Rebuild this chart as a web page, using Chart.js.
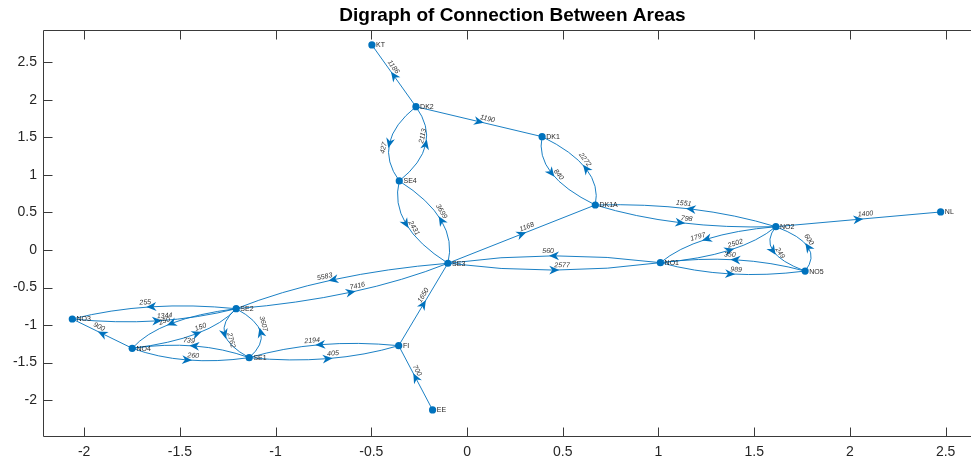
<!DOCTYPE html>
<html>
<head>
<meta charset="utf-8">
<script src="https://cdn.jsdelivr.net/npm/chart.js@4.4.1/dist/chart.umd.min.js"></script>
<style>
  html, body { margin: 0; padding: 0; overflow: hidden; background: #fff; }
  #wrap { width: 1000px; height: 465px; }
</style>
</head>
<body>
<div id="wrap"><canvas id="c" width="1000" height="465"></canvas></div>
<script>
// Areas (graph nodes) and their layout coordinates
const nodeNames = ['KT', 'DK2', 'DK1', 'SE4', 'DK1A', 'NO2', 'NL', 'SE3', 'NO1', 'NO5', 'NO3', 'SE2', 'NO4', 'SE1', 'FI', 'EE'];
const nodeX = [-0.497, -0.267, 0.392, -0.354, 0.670, 1.613, 2.474, -0.100, 1.010, 1.766, -2.062, -1.206, -1.749, -1.138, -0.357, -0.180];
const nodeY = [2.730, 1.908, 1.509, 0.919, 0.599, 0.310, 0.506, -0.177, -0.169, -0.281, -0.919, -0.782, -1.309, -1.434, -1.274, -2.130];

// Directed connections: source, target, capacity
const edgeSource = ['DK2', 'DK2', 'DK2', 'SE4', 'SE4', 'SE3', 'DK1', 'DK1A', 'SE3', 'DK1A', 'NO2', 'NO2', 'NO2', 'NO1', 'NO5', 'NO1', 'NO2', 'NO5', 'NO1', 'SE3', 'SE3', 'SE2', 'FI', 'EE', 'FI', 'SE1', 'SE2', 'SE1', 'SE2', 'NO3', 'SE2', 'NO4', 'NO4', 'SE1', 'NO4'];
const edgeTarget = ['KT', 'DK1', 'SE4', 'DK2', 'SE3', 'SE4', 'DK1A', 'DK1', 'DK1A', 'NO2', 'DK1A', 'NL', 'NO1', 'NO2', 'NO1', 'NO5', 'NO5', 'NO2', 'SE3', 'NO1', 'SE2', 'SE3', 'SE3', 'FI', 'SE1', 'FI', 'SE1', 'SE2', 'NO3', 'SE2', 'NO4', 'SE2', 'NO3', 'NO4', 'SE1'];
const edgeWeight = [1186, 1190, 427, 2113, 2431, 3699, 840, 2272, 1168, 798, 1551, 1400, 1797, 2502, 350, 989, 249, 600, 560, 2577, 5583, 7416, 1650, 700, 2194, 405, 2762, 3607, 255, 1344, 250, 150, 900, 739, 260];

// Axis ranges and tick values
const xLimits = [-2.215, 2.69];
const yLimits = [-2.477, 2.929];
const xTickValues = [-2, -1.5, -1, -0.5, 0, 0.5, 1, 1.5, 2, 2.5];
const yTickValues = [-2, -1.5, -1, -0.5, 0, 0.5, 1, 1.5, 2, 2.5];
const titleText = 'Digraph of Connection Between Areas';

const BLUE = '#0072BD';
const AXIS = '#3a3a3a';
const FONT = '"Liberation Sans", Helvetica, Arial, sans-serif';
const BEND = 0.095;   // sideways bulge of two-way edges, in data units

const idx = name => nodeNames.indexOf(name);
const pairKey = (a, b) => a + '>' + b;
const edgeSet = new Set(edgeSource.map((s, i) => pairKey(s, edgeTarget[i])));

// Draws the directed edges (curved when both directions exist), arrowheads and labels
const edgePlugin = {
  id: 'edges',
  beforeDatasetsDraw(chart) {
    const { ctx, scales: { x, y } } = chart;
    ctx.save();
    edgeSource.forEach((s, i) => {
      const t = edgeTarget[i];
      const a = idx(s), b = idx(t);
      const x0 = nodeX[a], y0 = nodeY[a], x2 = nodeX[b], y2 = nodeY[b];
      const dx = x2 - x0, dy = y2 - y0;
      const len = Math.hypot(dx, dy);
      const curved = edgeSet.has(pairKey(t, s));
      // control point on the right-hand side of travel
      const h = curved ? BEND : 0;
      const nx = dy / len, ny = -dx / len;
      const cxD = (x0 + x2) / 2 + 2 * h * nx;
      const cyD = (y0 + y2) / 2 + 2 * h * ny;
      const p0 = [x.getPixelForValue(x0), y.getPixelForValue(y0)];
      const p2 = [x.getPixelForValue(x2), y.getPixelForValue(y2)];
      const pc = [x.getPixelForValue(cxD), y.getPixelForValue(cyD)];

      ctx.strokeStyle = BLUE;
      ctx.lineWidth = 0.9;
      ctx.beginPath();
      ctx.moveTo(p0[0], p0[1]);
      ctx.quadraticCurveTo(pc[0], pc[1], p2[0], p2[1]);
      ctx.stroke();

      // midpoint of the curve and its tangent direction
      const mx = 0.25 * p0[0] + 0.5 * pc[0] + 0.25 * p2[0];
      const my = 0.25 * p0[1] + 0.5 * pc[1] + 0.25 * p2[1];
      const ang = Math.atan2(p2[1] - p0[1], p2[0] - p0[0]);

      // arrowhead
      ctx.save();
      ctx.translate(mx, my);
      ctx.rotate(ang);
      ctx.fillStyle = BLUE;
      ctx.beginPath();
      ctx.moveTo(5, 0);
      ctx.lineTo(-5, 4.4);
      ctx.lineTo(-2, 0);
      ctx.lineTo(-5, -4.4);
      ctx.closePath();
      ctx.fill();
      ctx.restore();

      // weight label, kept upright, running forward from the midpoint
      let rot = ang, align = 'left';
      if (rot > Math.PI / 2 || rot < -Math.PI / 2) {
        rot += Math.PI;
        align = 'right';
      }
      ctx.save();
      ctx.translate(mx, my);
      ctx.rotate(rot);
      ctx.fillStyle = '#333333';
      ctx.font = 'italic 7px ' + FONT;
      ctx.textAlign = align;
      ctx.textBaseline = 'bottom';
      ctx.fillText(String(edgeWeight[i]), 0, -1.2);
      ctx.restore();
    });
    ctx.restore();
  },
  afterDatasetsDraw(chart) {
    const { ctx, scales: { x, y } } = chart;
    ctx.save();
    ctx.fillStyle = '#262626';
    ctx.font = '7px ' + FONT;
    ctx.textAlign = 'left';
    ctx.textBaseline = 'middle';
    nodeNames.forEach((n, i) => {
      ctx.fillText(n, x.getPixelForValue(nodeX[i]) + 4.2, y.getPixelForValue(nodeY[i]) + 0.5);
    });
    ctx.restore();
  }
};

// Axes frame (left, top, bottom) with inward tick marks, plus the title
const framePlugin = {
  id: 'frame',
  afterDraw(chart) {
    const { ctx, chartArea: ca, scales: { x, y } } = chart;
    const L = Math.round(ca.left) + 0.5, R = Math.round(ca.right) + 0.5;
    const T = Math.round(ca.top) + 0.5, B = Math.round(ca.bottom) + 0.5;
    const tick = 9;
    ctx.save();
    ctx.strokeStyle = AXIS;
    ctx.lineWidth = 1;
    ctx.beginPath();
    ctx.moveTo(R, T); ctx.lineTo(L, T); ctx.lineTo(L, B); ctx.lineTo(R, B);
    xTickValues.forEach(v => {
      const px = Math.round(x.getPixelForValue(v)) + 0.5;
      ctx.moveTo(px, B); ctx.lineTo(px, B - tick);
      ctx.moveTo(px, T); ctx.lineTo(px, T + tick);
    });
    yTickValues.forEach(v => {
      const py = Math.round(y.getPixelForValue(v)) + 0.5;
      ctx.moveTo(L, py); ctx.lineTo(L + tick, py);
    });
    ctx.stroke();

    ctx.fillStyle = '#000000';
    ctx.font = 'bold 19px ' + FONT;
    ctx.textAlign = 'center';
    ctx.textBaseline = 'alphabetic';
    ctx.fillText(titleText, (ca.left + ca.right) / 2, 21);
    ctx.restore();
  }
};

const tickFmt = v => (Math.round(v * 10) / 10).toString();

new Chart(document.getElementById('c'), {
  type: 'scatter',
  data: {
    datasets: [{
      label: 'Areas',
      data: nodeNames.map((n, i) => ({ x: nodeX[i], y: nodeY[i] })),
      backgroundColor: BLUE,
      borderColor: BLUE,
      pointRadius: 3.6,
      pointHoverRadius: 3.6,
      borderWidth: 0
    }]
  },
  options: {
    responsive: false,
    animation: false,
    events: [],
    layout: { padding: { top: 30, right: 18, left: 0, bottom: 0 } },
    plugins: {
      legend: { display: false },
      title: { display: false },
      tooltip: { enabled: false }
    },
    scales: {
      x: {
        type: 'linear',
        min: xLimits[0],
        max: xLimits[1],
        afterBuildTicks: s => { s.ticks = xTickValues.map(v => ({ value: v })); },
        afterFit: s => { s.height = 29; },
        grid: { display: false, drawTicks: false },
        border: { display: false },
        ticks: {
          callback: tickFmt,
          color: '#262626',
          font: { family: FONT, size: 14 },
          padding: 8,
          maxRotation: 0,
          autoSkip: false
        }
      },
      y: {
        type: 'linear',
        min: yLimits[0],
        max: yLimits[1],
        afterBuildTicks: s => { s.ticks = yTickValues.map(v => ({ value: v })); },
        afterFit: s => { s.width = 43; },
        grid: { display: false, drawTicks: false },
        border: { display: false },
        ticks: {
          callback: tickFmt,
          color: '#262626',
          font: { family: FONT, size: 14 },
          padding: 6,
          autoSkip: false
        }
      }
    }
  },
  plugins: [edgePlugin, framePlugin]
});
</script>
</body>
</html>
